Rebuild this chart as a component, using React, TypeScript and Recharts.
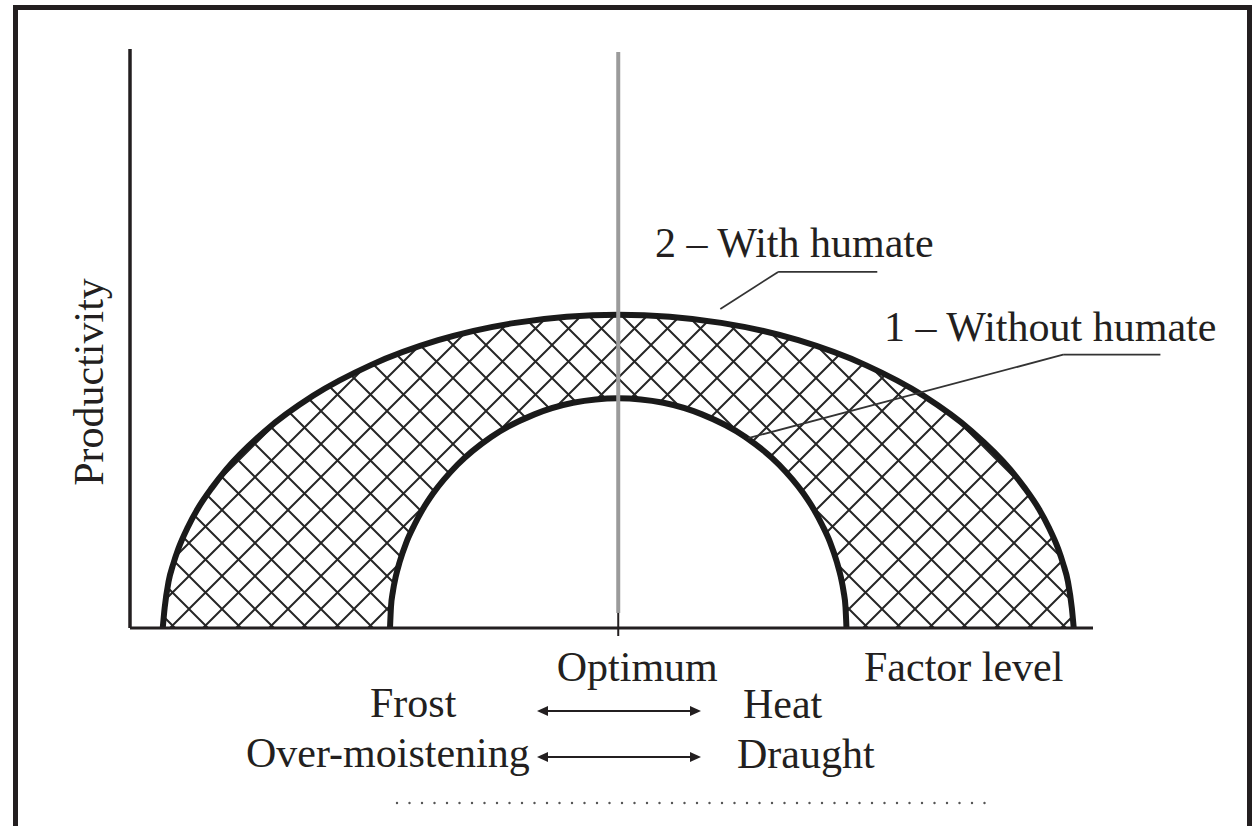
import React from 'react'
import { ComposedChart, Area, XAxis, YAxis, ReferenceLine } from 'recharts'

// ---------------------------------------------------------------------------
// Values (factor level 0..100, productivity 0..100)
// ---------------------------------------------------------------------------

const outerX = [3.4, 3.6, 4.0, 4.5, 5.0, 6, 7, 8.5, 10, 14, 19, 25, 32, 40, 50.7, 61.4, 69.4, 76.4, 82.4, 87.4, 91.4, 92.9, 94.4, 95.4, 96.4, 96.9, 97.4, 97.8, 98.0]
const outerY = [0, 3.5, 8.0, 11.1, 13.6, 17.4, 20.5, 24.2, 27.4, 34.0, 40.1, 45.4, 49.7, 52.7, 54.1, 52.7, 49.7, 45.4, 40.1, 34.0, 27.4, 24.2, 20.5, 17.4, 13.6, 11.1, 8.0, 3.5, 0]

const innerX = [27.0, 27.1, 27.3, 27.6, 28, 28.7, 29.5, 30.4, 31.5, 34, 37.5, 42, 46, 50.7, 55.4, 59.4, 63.9, 67.4, 69.9, 71.0, 71.9, 72.7, 73.4, 73.8, 74.1, 74.3, 74.4]
const innerY = [0, 3.6, 6.3, 8.9, 11.4, 14.8, 17.7, 20.5, 23.3, 28.2, 33.0, 36.9, 38.9, 39.7, 38.9, 36.9, 33.0, 28.2, 23.3, 20.5, 17.7, 14.8, 11.4, 8.9, 6.3, 3.6, 0]

const OPTIMUM = 50.7
const tickLabels = ['Optimum']

// leader lines from the curve labels (data coords)
const leaderWith = [
  { x: 61.3, y: 55.1 },
  { x: 67.3, y: 61.5 },
  { x: 77.6, y: 61.5 },
]
const leaderWithout = [
  { x: 64.2, y: 32.8 },
  { x: 96.9, y: 47.2 },
  { x: 107.0, y: 47.2 },
]

const data = Array.from(new Set([...outerX, ...innerX]))
  .sort((a, b) => a - b)
  .map((x) => {
    const i = outerX.indexOf(x)
    const j = innerX.indexOf(x)
    return { x, outer: i >= 0 ? outerY[i] : null, inner: j >= 0 ? innerY[j] : null }
  })

// ---------------------------------------------------------------------------

const INK = '#231f20'
const FONT = '"Liberation Serif", "Times New Roman", serif'
const W = 1253
const H = 826
const S = 33 // hatch tile

function Arrow({ y }: { y: number }) {
  const x1 = 537
  const x2 = 701
  return (
    <g>
      <line x1={x1 + 6} y1={y} x2={x2 - 6} y2={y} stroke={INK} strokeWidth={2} />
      <path d={`M${x1},${y} l11,-5 v10 z`} fill={INK} />
      <path d={`M${x2},${y} l-11,-5 v10 z`} fill={INK} />
    </g>
  )
}

function segs(pts: { x: number; y: number }[]) {
  return pts.slice(1).map((p, i) => [pts[i], p] as [{ x: number; y: number }, { x: number; y: number }])
}

export default function App() {
  const textStyle = { fontFamily: FONT, fontSize: 42, fill: INK }
  return (
    <div style={{ position: 'absolute', left: 0, top: 0, width: W, height: H, background: '#fff', overflow: 'hidden' }}>
      <svg width={0} height={0} style={{ position: 'absolute' }}>
        <defs>
          <pattern id="hatch" patternUnits="userSpaceOnUse" x={24} y={15} width={S} height={S}>
            <path
              d={`M${-S},0 L${S},${2 * S} M0,0 L${S},${S} M0,${-S} L${2 * S},${S} M0,${S} L${S},0 M${-S},${S} L${S},${-S} M0,${2 * S} L${2 * S},0`}
              stroke="#262626"
              strokeWidth={2}
              fill="none"
            />
          </pattern>
        </defs>
      </svg>

      <div style={{ position: 'absolute', left: 0, top: 0 }}>
        <ComposedChart width={W} height={H} data={data} margin={{ top: 49, right: 160, bottom: 138, left: 100 }}>
          <Area
            dataKey="outer"
            type="monotone"
            connectNulls
            fill="url(#hatch)"
            fillOpacity={1}
            stroke="#1a1a1a"
            strokeWidth={6}
            isAnimationActive={false}
            dot={false}
            activeDot={false}
          />
          <Area
            dataKey="inner"
            type="monotone"
            connectNulls
            fill="#ffffff"
            fillOpacity={1}
            stroke="#1a1a1a"
            strokeWidth={6}
            isAnimationActive={false}
            dot={false}
            activeDot={false}
          />
          <XAxis
            dataKey="x"
            type="number"
            domain={[0, 100]}
            ticks={[OPTIMUM]}
            tickFormatter={(_v: number, i: number) => tickLabels[i] ?? ''}
            height={60}
            tickSize={8}
            tickMargin={15}
            axisLine={{ stroke: INK, strokeWidth: 3 }}
            tickLine={{ stroke: INK, strokeWidth: 2 }}
            tick={{ ...textStyle, dx: 19 }}
            interval={0}
          />
          <YAxis
            type="number"
            domain={[0, 100]}
            width={30}
            tick={false}
            tickLine={false}
            axisLine={{ stroke: INK, strokeWidth: 3.5 }}
          />

          {/* optimum line */}
          <ReferenceLine segment={[{ x: OPTIMUM, y: 2.6 }, { x: OPTIMUM, y: 99.5 }]} stroke="#9b9b9b" strokeWidth={4} />
          <ReferenceLine segment={[{ x: OPTIMUM, y: 0 }, { x: OPTIMUM, y: 2.6 }]} stroke={INK} strokeWidth={2} />

          {segs(leaderWith).map((s, i) => (
            <ReferenceLine key={'w' + i} segment={s} stroke="#333" strokeWidth={1.8} ifOverflow="visible" />
          ))}
          {segs(leaderWithout).map((s, i) => (
            <ReferenceLine key={'o' + i} segment={s} stroke="#333" strokeWidth={1.8} ifOverflow="visible" />
          ))}
        </ComposedChart>
      </div>

      {/* frame, labels and the legend of factors */}
      <svg width={W} height={H} style={{ position: 'absolute', left: 0, top: 0, pointerEvents: 'none' }}>
        <path d={`M15.5,${H} L15.5,7.5 L1249.5,7.5 L1249.5,${H}`} stroke={INK} strokeWidth={5} fill="none" />

        <text {...textStyle} x={655} y={257}>2 – With humate</text>
        <text {...textStyle} x={884} y={341}>1 – Without humate</text>
        <text {...textStyle} x={103} y={382} textAnchor="middle" transform="rotate(-90 103 382)">Productivity</text>

        <text {...textStyle} x={864} y={681}>Factor level</text>
        <text {...textStyle} x={370} y={717}>Frost</text>
        <text {...textStyle} x={743} y={718}>Heat</text>
        <text {...textStyle} x={246} y={767}>Over-moistening</text>
        <text {...textStyle} x={737} y={768}>Draught</text>

        <Arrow y={711} />
        <Arrow y={757} />

        <line x1={397} y1={803} x2={997} y2={803} stroke="#555" strokeWidth={2.4} strokeLinecap="round" strokeDasharray="0 12.5" />
      </svg>
    </div>
  )
}
